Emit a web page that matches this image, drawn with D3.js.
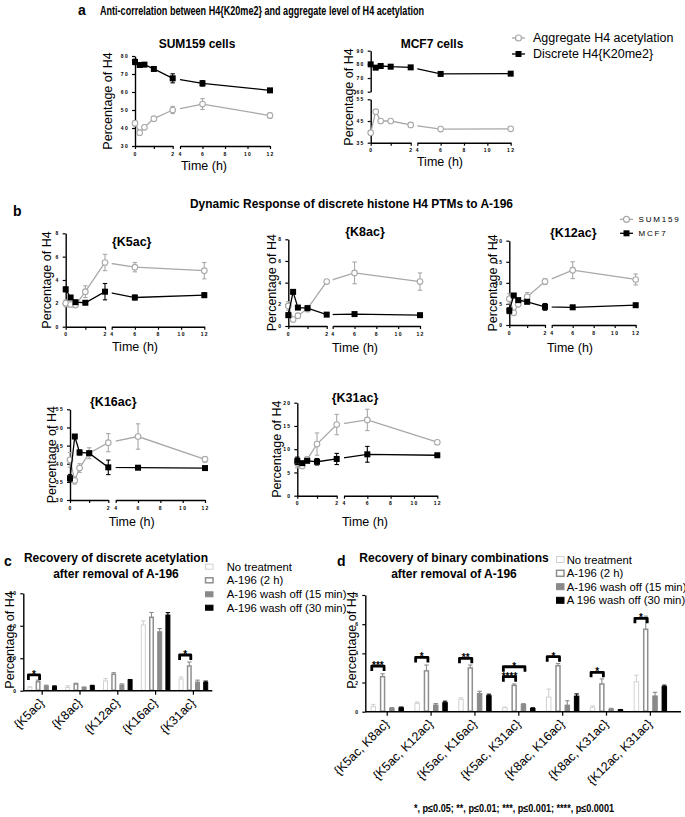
<!DOCTYPE html>
<html><head><meta charset="utf-8">
<script src="https://cdn.jsdelivr.net/npm/d3@7"></script>
<style>body{margin:0;background:#fff}svg{display:block}text{font-family:"Liberation Sans",Arial,sans-serif}</style>
</head><body><svg id="chart" width="685" height="817"></svg>
<script>
// ---------------- DATA ----------------
const times = [0, 0.25, 0.5, 1, 2, 6, 12];

// Panel a
const sumAggAcet = [42.6, 37.4, 40.4, 45.2, 50.0, 53.3, 46.9];
const sumAggAcetErr = [1.5, 0.8, 1.0, 0.8, 2.0, 3.0, 1.5];
const sumK20me2 = [76.7, 75.0, 75.2, 72.8, 67.6, 64.8, 60.9];
const sumK20me2Err = [1.5, 0.5, 0.5, 0.8, 2.5, 1.5, 0.6];
const mcfAggAcet = [39.6, 49.3, 45.0, 45.0, 43.2, 41.3, 41.4];
const mcfAggAcetErr = [0.5, 0.5, 0.8, 0.4, 1.0, 0.4, 0.4];
const mcfK20me2 = [80.0, 77.6, 78.8, 78.3, 77.8, 73.0, 73.2];
const mcfK20me2Err = [0.8, 0.5, 0.5, 0.5, 0.5, 0.5, 0.5];

// Panel b
const ptmNames = ["{K5ac}", "{K8ac}", "{K12ac}", "{K16ac}", "{K31ac}"];
const k5acSUM159 = [2.0, 1.9, 1.85, 3.0, 5.5, 5.1, 4.8];
const k5acSUM159Err = [0.3, 0.2, 0.2, 0.5, 0.7, 0.4, 0.7];
const k5acMCF7 = [3.2, 2.5, 2.1, 2.05, 3.0, 2.5, 2.7];
const k5acMCF7Err = [0.2, 0.1, 0.1, 0.1, 0.7, 0.2, 0.2];
const k8acSUM159 = [1.85, 0.6, 0.95, 1.6, 4.1, 4.9, 4.1];
const k8acSUM159Err = [0.4, 0.1, 0.2, 0.3, 0.1, 1.0, 0.8];
const k8acMCF7 = [1.0, 3.15, 1.7, 1.65, 1.05, 1.1, 1.0];
const k8acMCF7Err = [0.2, 0.1, 0.1, 0.1, 0.05, 0.1, 0.05];
const k12acSUM159 = [6.2, 2.9, 4.9, 6.7, 10.3, 13.0, 10.8];
const k12acSUM159Err = [1.2, 0.5, 0.5, 1.0, 0.7, 2.0, 1.3];
const k12acMCF7 = [3.4, 7.0, 5.9, 5.5, 4.3, 4.2, 4.7];
const k12acMCF7Err = [0.7, 0.3, 0.3, 0.3, 0.8, 0.2, 0.2];
const k16acSUM159 = [41.1, 35.4, 38.8, 42.9, 45.8, 47.5, 41.2];
const k16acSUM159Err = [2.0, 1.0, 1.2, 1.5, 2.5, 3.5, 0.8];
const k16acMCF7 = [36.0, 47.5, 43.1, 42.9, 39.0, 38.9, 38.8];
const k16acMCF7Err = [1.0, 0.4, 0.7, 0.4, 2.0, 0.4, 0.4];
const k31acSUM159 = [7.0, 6.4, 7.8, 11.1, 15.3, 16.3, 11.5];
const k31acSUM159Err = [1.0, 0.3, 0.5, 2.4, 2.2, 2.3, 0.3];
const k31acMCF7 = [7.5, 7.0, 7.5, 7.3, 7.9, 8.9, 8.7];
const k31acMCF7Err = [0.8, 0.3, 0.3, 0.7, 1.2, 1.7, 0.3];

// Panel c / d
const treatments = ["No treatment", "A-196 (2 h)", "A-196 wash off (15 min)", "A-196 wash off (30 min)"];
const treatmentsLegendD = ["No treatment", "A-196 (2 h)", "A-196 wash off (15 min)", "A 196 wash off (30 min)"];
const catsC = ["{K5ac}", "{K8ac}", "{K12ac}", "{K16ac}", "{K31ac}"];
const noTreatC = [2.1, 2.0, 6.0, 40.5, 7.2];
const noTreatCErr = [0.3, 1.0, 1.5, 2.5, 1.2];
const a196C = [5.5, 4.1, 10.1, 45.2, 15.2];
const a196CErr = [1.0, 0.5, 1.0, 3.0, 2.5];
const wash15C = [2.9, 2.0, 3.5, 36.3, 5.3];
const wash15CErr = [0.5, 0.3, 0.7, 2.0, 1.2];
const wash30C = [2.5, 3.0, 6.6, 46.6, 5.1];
const wash30CErr = [0.5, 0.3, 0.3, 1.5, 0.8];
const sigC = [
  {cat: "{K5ac}", from: 0, to: 1, level: 9.7, label: "*"},
  {cat: "{K31ac}", from: 0, to: 1, level: 22, label: "*"}
];

const catsD = ["{K5ac, K8ac}", "{K5ac, K12ac}", "{K5ac, K16ac}", "{K5ac, K31ac}", "{K8ac, K16ac}", "{K8ac, K31ac}", "{K12ac, K31ac}"];
const noTreatD = [0.35, 0.57, 0.85, 0.27, 1.0, 0.3, 2.05];
const noTreatDErr = [0.15, 0.1, 0.1, 0.05, 0.55, 0.1, 0.45];
const a196D = [2.4, 2.8, 3.0, 1.8, 3.15, 1.9, 5.65];
const a196DErr = [0.2, 0.4, 0.2, 0.1, 0.15, 0.35, 0.9];
const wash15D = [0.23, 0.46, 1.25, 0.5, 0.45, 0.18, 1.08];
const wash15DErr = [0.05, 0.1, 0.15, 0.05, 0.3, 0.05, 0.25];
const wash30D = [0.27, 0.62, 1.1, 0.22, 1.07, 0.12, 1.72];
const wash30DErr = [0.05, 0.1, 0.1, 0.05, 0.15, 0.03, 0.1];
const sigD = [
  {cat: "{K5ac, K8ac}", from: 0, to: 1, level: 3.13, label: "***"},
  {cat: "{K5ac, K12ac}", from: 0, to: 1, level: 3.72, label: "*"},
  {cat: "{K5ac, K16ac}", from: 0, to: 1, level: 3.66, label: "**"},
  {cat: "{K5ac, K31ac}", from: 0, to: 1, level: 2.4, label: "****"},
  {cat: "{K5ac, K31ac}", from: 0, to: 2, level: 3.08, label: "*"},
  {cat: "{K8ac, K16ac}", from: 0, to: 1, level: 3.77, label: "*"},
  {cat: "{K8ac, K31ac}", from: 0, to: 1, level: 2.7, label: "*"},
  {cat: "{K12ac, K31ac}", from: 0, to: 1, level: 6.4, label: "*"}
];

// ---------------- DRAW ----------------
const svg = d3.select("#chart");
const GRAY = "#a8a8a8";
const FONT = "Liberation Sans, Arial, sans-serif";

function text(x, y, s, o = {}) {
  const t = svg.append("text").attr("x", x).attr("y", y).text(s)
    .attr("font-size", o.size || 12).attr("font-weight", o.bold ? "bold" : "normal")
    .attr("text-anchor", o.anchor || "start").attr("dominant-baseline", "central")
    .attr("fill", o.fill || "#000");
  if (o.len) t.attr("textLength", o.len).attr("lengthAdjust", "spacingAndGlyphs");
  if (o.ls) t.style("letter-spacing", o.ls);
  return t;
}
function vlabel(x, cy, s, size) {
  svg.append("text").attr("transform", `translate(${x},${cy}) rotate(-90)`)
    .attr("text-anchor", "middle").attr("dominant-baseline", "central")
    .attr("font-size", size || 12.5).text(s);
}
function styleAxis(sel) {
  sel.select(".domain").attr("stroke", "#000").attr("stroke-width", 1.4);
  sel.selectAll(".tick line").attr("stroke", "#000").attr("stroke-width", 1.2);
  sel.selectAll(".tick text").attr("fill", "#000").style("font-size", "5px")
    .style("font-weight", "bold").style("letter-spacing", "1.3px").style("font-family", FONT);
}

let clipN = 0;
function timePanel(cfg) {
  const g = svg.append("g");
  const s1 = d3.scaleLinear().domain([0, 2]).range([cfg.x0, cfg.x2]);
  const s2 = d3.scaleLinear().domain([4, 12]).range([cfg.x4, cfg.x12]);
  const X = t => t <= 2 ? s1(t) : s2(t);
  g.append("g").attr("transform", `translate(0,${cfg.xAxisY})`)
    .call(d3.axisBottom(s1).tickValues([0, 1, 2]).tickFormat(d => d === 1 ? "" : d).tickSize(3).tickSizeOuter(0))
    .call(styleAxis);
  g.append("g").attr("transform", `translate(0,${cfg.xAxisY})`)
    .call(d3.axisBottom(s2).tickValues([4, 6, 8, 10, 12]).tickSize(3).tickSizeOuter(0))
    .call(styleAxis);
  cfg.yAxes.forEach(a => {
    g.append("g").attr("transform", `translate(${cfg.x0},0)`)
      .call(d3.axisLeft(a.scale).tickValues(a.ticks).tickSize(3).tickSizeOuter(0))
      .call(styleAxis);
  });
  const cid = "clip" + (clipN++);
  const cp = svg.append("clipPath").attr("id", cid);
  cp.append("rect").attr("x", cfg.x0 - 20).attr("y", 0).attr("width", cfg.x2 - cfg.x0 + 20).attr("height", 817);
  cp.append("rect").attr("x", cfg.x4).attr("y", 0).attr("width", cfg.x12 - cfg.x4 + 20).attr("height", 817);
  cfg.series.forEach(s => {
    const y = s.y;
    const pts = times.map((t, i) => ({t, v: s.values[i], e: s.errors[i]}));
    const line = d3.line().x(d => X(d.t)).y(d => y(d.v));
    g.append("path").attr("d", line(pts)).attr("fill", "none").attr("stroke", s.color)
      .attr("stroke-width", 1.3).attr("clip-path", `url(#${cid})`);
    const eb = g.append("g").attr("stroke", s.color).attr("stroke-width", 1.1);
    pts.forEach(d => {
      const x = X(d.t), y1 = y(d.v - d.e), y2 = y(d.v + d.e);
      eb.append("line").attr("x1", x).attr("x2", x).attr("y1", y1).attr("y2", y2);
      eb.append("line").attr("x1", x - 2.2).attr("x2", x + 2.2).attr("y1", y1).attr("y2", y1);
      eb.append("line").attr("x1", x - 2.2).attr("x2", x + 2.2).attr("y1", y2).attr("y2", y2);
    });
    if (s.marker === "circle") {
      g.append("g").selectAll("circle").data(pts).join("circle")
        .attr("cx", d => X(d.t)).attr("cy", d => y(d.v)).attr("r", 2.8)
        .attr("fill", "#fff").attr("stroke", s.color).attr("stroke-width", 1.1);
    } else {
      g.append("g").selectAll("rect").data(pts).join("rect")
        .attr("x", d => X(d.t) - 3).attr("y", d => y(d.v) - 3).attr("width", 6).attr("height", 6)
        .attr("fill", s.color);
    }
  });
}

// ---- Panel a
text(78, 10, "a", {bold: true, size: 14});
text(100, 10, "Anti-correlation between H4{K20me2} and aggregate level of H4 acetylation", {bold: true, size: 13.5, len: 324});

text(197, 44, "SUM159 cells", {bold: true, size: 12, anchor: "middle"});
const ySumA = d3.scaleLinear().domain([30, 80]).range([146, 56]);
timePanel({x0: 135, x2: 172.7, x4: 180, x12: 270, xAxisY: 146,
  yAxes: [{scale: ySumA, ticks: [30, 40, 50, 60, 70, 80]}],
  series: [
    {values: sumAggAcet, errors: sumAggAcetErr, y: ySumA, color: GRAY, marker: "circle"},
    {values: sumK20me2, errors: sumK20me2Err, y: ySumA, color: "#000", marker: "square"}
  ]});
vlabel(108, 101, "Percentage of H4");
text(204, 166, "Time (h)", {size: 12.5, anchor: "middle"});

text(432, 44, "MCF7 cells", {bold: true, size: 12, anchor: "middle"});
const yMcfUp = d3.scaleLinear().domain([60, 90]).range([91.7, 50.7]);
const yMcfLo = d3.scaleLinear().domain([35, 55]).range([142.7, 99.3]);
timePanel({x0: 370.7, x2: 410.7, x4: 417.3, x12: 510.7, xAxisY: 142.7,
  yAxes: [{scale: yMcfUp, ticks: [60, 70, 80, 90]}, {scale: yMcfLo, ticks: [35, 45, 55]}],
  series: [
    {values: mcfAggAcet, errors: mcfAggAcetErr, y: yMcfLo, color: GRAY, marker: "circle"},
    {values: mcfK20me2, errors: mcfK20me2Err, y: yMcfUp, color: "#000", marker: "square"}
  ]});
vlabel(348.5, 97, "Percentage of H4");
text(440, 162, "Time (h)", {size: 12.5, anchor: "middle"});

// legend a
svg.append("line").attr("x1", 512).attr("x2", 525).attr("y1", 38).attr("y2", 38).attr("stroke", GRAY).attr("stroke-width", 1.3);
svg.append("circle").attr("cx", 518.5).attr("cy", 38).attr("r", 3).attr("fill", "#fff").attr("stroke", GRAY).attr("stroke-width", 1.2);
text(533, 38, "Aggregate H4 acetylation", {size: 12.5});
svg.append("line").attr("x1", 512).attr("x2", 525).attr("y1", 54).attr("y2", 54).attr("stroke", "#000").attr("stroke-width", 1.3);
svg.append("rect").attr("x", 515.5).attr("y", 51).attr("width", 6).attr("height", 6).attr("fill", "#000");
text(533, 54, "Discrete H4{K20me2}", {size: 12.5});

// ---- Panel b
text(13, 211, "b", {bold: true, size: 14});
text(190, 203, "Dynamic Response of discrete histone H4 PTMs to A-196", {bold: true, size: 13.5, len: 323});

const bLayout = [
  {x0: 65.7, x2: 105, x4: 111.7, x12: 204.3, yTop: 233.3, yBot: 326.7, dom: [0, 8], ticks: [0, 2, 4, 6, 8], title: [131.7, 241.7], ylab: 46.7, xlab: [135, 346.7], sum: k5acSUM159, sumE: k5acSUM159Err, mcf: k5acMCF7, mcfE: k5acMCF7Err},
  {x0: 288.3, x2: 326.7, x4: 332.7, x12: 420, yTop: 239.3, yBot: 326, dom: [0, 8], ticks: [0, 2, 4, 6, 8], title: [365, 231.7], ylab: 271.7, xlab: [355, 348], sum: k8acSUM159, sumE: k8acSUM159Err, mcf: k8acMCF7, mcfE: k8acMCF7Err},
  {x0: 509.3, x2: 545, x4: 551.7, x12: 635.7, yTop: 240.7, yBot: 325, dom: [0, 20], ticks: [0, 5, 10, 15, 20], title: [573.3, 233.3], ylab: 493.3, xlab: [570, 348.3], sum: k12acSUM159, sumE: k12acSUM159Err, mcf: k12acMCF7, mcfE: k12acMCF7Err},
  {x0: 70, x2: 108.3, x4: 115.7, x12: 205, yTop: 409.3, yBot: 500, dom: [30, 55], ticks: [30, 35, 40, 45, 50, 55], title: [113.3, 401.7], ylab: 51.7, xlab: [131.7, 521.7], sum: k16acSUM159, sumE: k16acSUM159Err, mcf: k16acMCF7, mcfE: k16acMCF7Err},
  {x0: 297.3, x2: 336.7, x4: 344, x12: 437.3, yTop: 402.7, yBot: 495.7, dom: [0, 20], ticks: [0, 5, 10, 15, 20], title: [355, 398.3], ylab: 276.7, xlab: [365, 521.7], sum: k31acSUM159, sumE: k31acSUM159Err, mcf: k31acMCF7, mcfE: k31acMCF7Err}
];
bLayout.forEach((L, i) => {
  const y = d3.scaleLinear().domain(L.dom).range([L.yBot, L.yTop]);
  timePanel({x0: L.x0, x2: L.x2, x4: L.x4, x12: L.x12, xAxisY: L.yBot,
    yAxes: [{scale: y, ticks: L.ticks}],
    series: [
      {values: L.sum, errors: L.sumE, y, color: GRAY, marker: "circle"},
      {values: L.mcf, errors: L.mcfE, y, color: "#000", marker: "square"}
    ]});
  text(L.title[0], L.title[1], ptmNames[i], {bold: true, size: 12.5, anchor: "middle"});
  vlabel(L.ylab, (L.yTop + L.yBot) / 2, "Percentage of H4", 12.5);
  text(L.xlab[0], L.xlab[1], "Time (h)", {size: 12.5, anchor: "middle"});
});
// legend b
svg.append("line").attr("x1", 620).attr("x2", 633).attr("y1", 219.3).attr("y2", 219.3).attr("stroke", GRAY).attr("stroke-width", 1.3);
svg.append("circle").attr("cx", 626.5).attr("cy", 219.3).attr("r", 3).attr("fill", "#fff").attr("stroke", GRAY).attr("stroke-width", 1.2);
text(638.5, 219.3, "SUM159", {size: 8, ls: "1.8px"});
svg.append("line").attr("x1", 620).attr("x2", 633).attr("y1", 233.3).attr("y2", 233.3).attr("stroke", "#000").attr("stroke-width", 1.3);
svg.append("rect").attr("x", 623.5).attr("y", 230.3).attr("width", 6).attr("height", 6).attr("fill", "#000");
text(638.5, 233.3, "MCF7", {size: 8, ls: "1.8px"});

// ---- Bar panels
const barStyles = [
  {fill: "#fff", stroke: "#d2d2d2", sw: 1},
  {fill: "#fff", stroke: "#8f8f8f", sw: 1.5},
  {fill: "#8a8a8a", stroke: "#8a8a8a", sw: 1},
  {fill: "#000", stroke: "#000", sw: 1}
];
function barPanel(cfg) {
  const g = svg.append("g");
  const x = d3.scaleBand().domain(cfg.cats).range(cfg.xRange);
  const xs = d3.scaleBand().domain(d3.range(4)).range([-cfg.half, cfg.half]).paddingInner(cfg.pad);
  const y = d3.scaleLinear().domain(cfg.yDomain).range(cfg.yRange);
  const bw = xs.bandwidth();
  cfg.series.forEach((s, si) => {
    const st = barStyles[si];
    cfg.cats.forEach((c, ci) => {
      const bx = x(c) + x.bandwidth() / 2 + xs(si);
      const v = s.values[ci], e = s.errors[ci];
      const cx = bx + bw / 2;
      g.append("line").attr("x1", cx).attr("x2", cx).attr("y1", y(v)).attr("y2", y(v + e))
        .attr("stroke", st.stroke).attr("stroke-width", 1.1);
      g.append("line").attr("x1", cx - 2.2).attr("x2", cx + 2.2).attr("y1", y(v + e)).attr("y2", y(v + e))
        .attr("stroke", st.stroke).attr("stroke-width", 1.1);
      g.append("rect").attr("x", bx + st.sw / 2).attr("y", y(v)).attr("width", bw - st.sw)
        .attr("height", y(0) - y(v) - 0.5).attr("fill", st.fill).attr("stroke", st.stroke).attr("stroke-width", st.sw);
    });
  });
  // axes
  const xa = g.append("g").attr("transform", `translate(0,${cfg.yRange[0]})`)
    .call(d3.axisBottom(x).tickSize(4).tickSizeOuter(0).tickFormat(""));
  xa.select(".domain").attr("d", `M${cfg.xRange[0]},0H${cfg.axisEnd}`);
  styleAxis(xa);
  g.append("g").attr("transform", `translate(${cfg.xRange[0]},0)`)
    .call(d3.axisLeft(y).tickValues(cfg.yTicks).tickSize(3).tickSizeOuter(0)).call(styleAxis);
  // rotated labels
  cfg.cats.forEach(c => {
    svg.append("text").attr("transform", `translate(${x(c) + x.bandwidth() / 2},${cfg.yRange[0] + 10}) rotate(-45)`)
      .attr("text-anchor", "end").attr("dominant-baseline", "central").attr("font-size", cfg.labelSize).text(c);
  });
  // significance
  cfg.sig.forEach(s => {
    const base = x(s.cat) + x.bandwidth() / 2 + bw / 2;
    const x1 = base + xs(s.from) - 1.5, x2 = base + xs(s.to) + 1.5, yy = y(s.level);
    g.append("path").attr("d", `M${x1},${yy + 5}V${yy}H${x2}V${yy + 5}`).attr("fill", "none")
      .attr("stroke", "#000").attr("stroke-width", 2.8).attr("stroke-linejoin", "round");
    svg.append("text").attr("x", (x1 + x2) / 2).attr("y", yy + 3).attr("text-anchor", "middle")
      .attr("font-size", 10).attr("font-weight", "bold").text(s.label);
  });
}

// Panel c
text(4, 561, "c", {bold: true, size: 14});
text(116, 558, "Recovery of discrete acetylation", {bold: true, size: 12, anchor: "middle"});
text(116, 573.5, "after removal of A-196", {bold: true, size: 12, anchor: "middle"});
barPanel({cats: catsC, xRange: [23.3, 212.3], axisEnd: 212.3, half: 14.8, pad: 0.39, labelSize: 12.5,
  yDomain: [0, 60], yRange: [690.7, 593.3], yTicks: [0, 20, 40, 60],
  series: [
    {values: noTreatC, errors: noTreatCErr}, {values: a196C, errors: a196CErr},
    {values: wash15C, errors: wash15CErr}, {values: wash30C, errors: wash30CErr}
  ], sig: sigC});
vlabel(10, 640, "Percentage of H4", 12.5);
[566.7, 580.3, 594.3, 607.7].forEach((yy, i) => {
  const st = barStyles[i];
  svg.append("rect").attr("x", 205.5).attr("y", yy - 2.5).attr("width", 7.5).attr("height", 5)
    .attr("fill", st.fill).attr("stroke", st.stroke).attr("stroke-width", st.sw);
  text(226.7, yy, treatments[i], {size: 11.3});
});

// Panel d
text(337, 561, "d", {bold: true, size: 14});
text(454, 558, "Recovery of binary combinations", {bold: true, size: 12, anchor: "middle"});
text(454, 573.5, "after removal of A-196", {bold: true, size: 12, anchor: "middle"});
barPanel({cats: catsD, xRange: [365.3, 672.3], axisEnd: 681, half: 16.7, pad: 0.41, labelSize: 12.5,
  yDomain: [0, 8], yRange: [711.7, 595], yTicks: [0, 2, 4, 6, 8],
  series: [
    {values: noTreatD, errors: noTreatDErr}, {values: a196D, errors: a196DErr},
    {values: wash15D, errors: wash15DErr}, {values: wash30D, errors: wash30DErr}
  ], sig: sigD});
vlabel(351.7, 640, "Percentage of H4", 12.5);
[559.5, 573.3, 586.7, 600.3].forEach((yy, i) => {
  const st = barStyles[i];
  svg.append("rect").attr("x", 556.5).attr("y", yy - 3).attr("width", 7.5).attr("height", 6)
    .attr("fill", st.fill).attr("stroke", st.stroke).attr("stroke-width", st.sw);
  text(566.7, yy, treatmentsLegendD[i], {size: 11.3});
});

text(514, 808, "*, p≤0.05; **, p≤0.01; ***, p≤0.001; ****, p≤0.0001", {bold: true, size: 10.5, len: 200, anchor: "middle"});
</script></body></html>
